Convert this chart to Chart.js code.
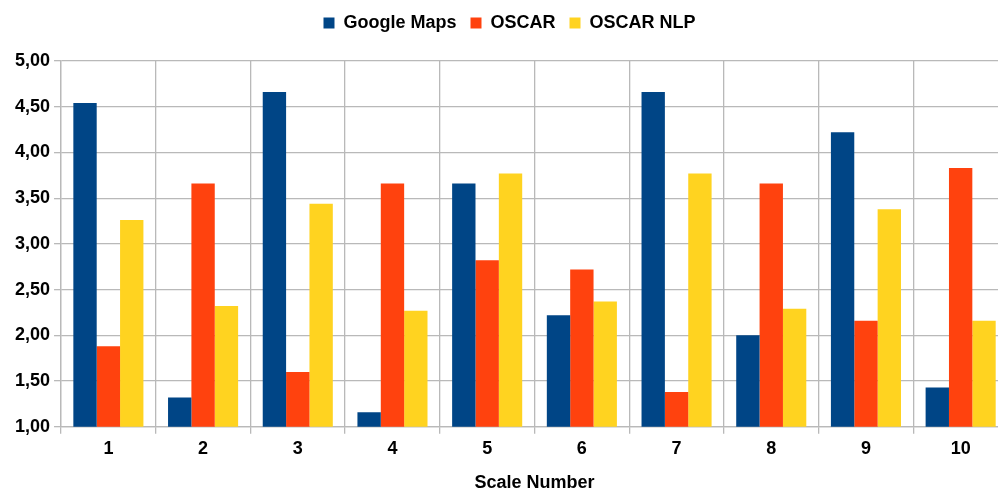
<!DOCTYPE html>
<html>
<head>
<meta charset="utf-8">
<script src="https://cdn.jsdelivr.net/npm/chart.js@4/dist/chart.umd.min.js"></script>
<style>
  html, body { margin: 0; padding: 0; background: #fff; overflow: hidden; }
  #wrap { width: 1010px; height: 492px; position: relative; }
</style>
</head>
<body>
<div id="wrap"><canvas id="c"></canvas></div>
<script>
const categories = ['1', '2', '3', '4', '5', '6', '7', '8', '9', '10'];
const googleMaps = [4.54, 1.32, 4.66, 1.16, 3.66, 2.22, 4.66, 2.00, 4.22, 1.43];
const oscar      = [1.88, 3.66, 1.60, 3.66, 2.82, 2.72, 1.38, 3.66, 2.16, 3.83];
const oscarNlp   = [3.26, 2.32, 3.44, 2.27, 3.77, 2.37, 3.77, 2.29, 3.38, 2.16];
const seriesNames = ['Google Maps', 'OSCAR', 'OSCAR NLP'];
const yMin = 1, yMax = 5, yStep = 0.5;
const xTitle = 'Scale Number';

const font = { family: '"Liberation Sans", Arial, sans-serif', size: 18, weight: 'bold' };
const gridColor = '#b9b9b9';

const legendGap = {
  id: 'legendGap',
  beforeInit(chart) {
    const origFit = chart.legend.fit;
    chart.legend.fit = function () {
      origFit.bind(chart.legend)();
      this.height += 19;
    };
  }
};

new Chart(document.getElementById('c'), {
  type: 'bar',
  plugins: [legendGap],
  data: {
    labels: categories,
    datasets: [
      { label: seriesNames[0], data: googleMaps, backgroundColor: '#004586' },
      { label: seriesNames[1], data: oscar, backgroundColor: '#ff420e' },
      { label: seriesNames[2], data: oscarNlp, backgroundColor: '#ffd320' }
    ]
  },
  options: {
    responsive: true,
    maintainAspectRatio: false,
    animation: false,
    datasets: { bar: { categoryPercentage: 0.74, barPercentage: 1.0, borderWidth: 0 } },
    layout: { padding: { left: 11, right: 2, top: 0, bottom: -2 } },
    plugins: {
      tooltip: { enabled: false },
      legend: {
        position: 'top',
        labels: {
          font: font, color: '#000', boxWidth: 11, boxHeight: 11, padding: 14
        }
      }
    },
    scales: {
      x: {
        grid: { color: gridColor, lineWidth: 1.3, tickLength: 7, offset: true },
        border: { color: gridColor, width: 1.3 },
        ticks: { font: font, color: '#000', padding: 4 },
        title: { display: true, text: xTitle, font: font, color: '#000', padding: { top: 9, bottom: 0 } }
      },
      y: {
        min: yMin, max: yMax,
        grid: { color: gridColor, lineWidth: 1.3, tickLength: 7 },
        border: { color: gridColor, width: 1.3 },
        ticks: {
          stepSize: yStep, font: font, color: '#000', padding: 4,
          callback: v => v.toFixed(2).replace('.', ',')
        }
      }
    }
  }
});
</script>
</body>
</html>
